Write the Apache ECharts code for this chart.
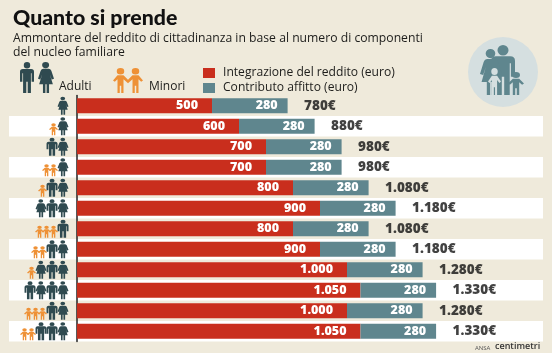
<!DOCTYPE html>
<html>
<head>
<meta charset="utf-8">
<style>
html, body { margin: 0; padding: 0; background: #efeadb; }
#chart { width: 552px; height: 353px; }
</style>
<script src="https://cdn.jsdelivr.net/npm/echarts@6/dist/echarts.min.js"></script>
</head>
<body>
<div id="chart"></div>
<script>
// one row per household, read left to right: b = minor, u = man, d = woman
var households = ['d', 'bd', 'ud', 'bbd', 'bud', 'dud', 'bbbu', 'bbud', 'bdud', 'udud', 'bbbud', 'bbuud'];
var integrazione = [500, 600, 700, 700, 800, 900, 800, 900, 1000, 1050, 1000, 1050];
var affitto = [280, 280, 280, 280, 280, 280, 280, 280, 280, 280, 280, 280];
var totali = [780, 880, 980, 980, 1080, 1180, 1080, 1180, 1280, 1330, 1280, 1330];

var nomeIntegrazione = 'Integrazione del reddito (euro)';
var nomeAffitto = 'Contributo affitto (euro)';

var DARK = '#2f4a50', ORANGE = '#ee9136', RED = '#c92e1d', TEAL = '#5f868e', TXT = '#1d1d1b', DISC = '#d5dfe0';
var FONT = '"Open Sans", sans-serif';

var manPath = 'M10 0a4.6 4.6 0 1 0 .01 0zM4 10h12q4 0 4 4v14h-3.4v-12h-1v28h-4.6v-16h-2v16h-4.6v-28h-1v12h-3.4v-14q0-4 4-4z';
var womanPath = 'M10 0a4.6 4.6 0 1 0 .01 0zM6 10h8q2.5 0 3.5 3l3.5 12l-3 1l-2.5-8l4 15h-5v13h-3.2v-13h-1.6v13h-3.2v-13h-5l4-15l-2.5 8l-3-1l3.5-12q1-3 3.5-3z';
var kidPath = 'M10 0a5 5 0 1 0 .01 0zM6 11h8l6 8l-2.4 2l-3.6-4v21h-3v-11h-2v11h-3v-21l-3.6 4l-2.4-2z';
var pairPath = 'M10 0a5 5 0 1 0 .01 0zM30 0a5 5 0 1 0 .01 0zM6 11h8l6 7l6-7h8l6 8l-2.4 2l-3.6-4v21h-3v-11h-2v11h-3v-21l-6 6l-6-6v21h-3v-11h-2v11h-3v-21l-3.6 4l-2.4-2z';

// axis runs past zero on the left so the row bands reach under the icons
var PX = 0.27; // pixels per euro
var xMin = -252, xMax = 1726;

// icons are stacked leftwards from the axis, depending on who is in the row
function iconPoints(kind) {
    var pts = [];
    households.forEach(function (h, row) {
        var x = 63;
        for (var i = h.length - 1; i >= 0; i--) {
            if (h[i] === kind) pts.push([(x - 77) / PX, row]);
            x -= h[i - 1] === 'b' ? (h[i] === 'b' ? 7 : 9.5) : 11;
        }
    });
    return pts;
}

function iconSeries(kind, path, size, color, offset) {
    return {
        type: 'scatter',
        silent: true,
        data: iconPoints(kind),
        symbol: 'path://' + path,
        symbolSize: size,
        symbolOffset: offset,
        itemStyle: { color: color, opacity: 1 },
        z: 5
    };
}

// header pictograms, placed in pixels like the rest of the header
var pictos = [
    [manPath, 20, 62, 14, 31, DARK],
    [womanPath, 38, 62, 16, 31, DARK],
    [pairPath, 113, 68, 30, 25, ORANGE],
    [manPath, 491, 45, 24, 50, TEAL],
    [womanPath, 480, 49, 22, 46, TEAL],
    [kidPath, 508, 72, 16, 23, TEAL],
    [kidPath, 488, 68, 13, 27, DISC]
];

function euroLabel(v) {
    return String(v).replace(/(\d)(\d{3})$/, '$1.$2');
}

var chart = echarts.init(document.getElementById('chart'));
chart.setOption({
    animation: false,
    backgroundColor: '#efeadb',
    textStyle: { fontFamily: FONT },
    title: {
        left: 8, top: 3, itemGap: 3,
        text: 'Quanto si prende',
        textStyle: { fontFamily: 'Lato, sans-serif', fontSize: 21.3, fontWeight: 900, color: '#111' },
        subtext: 'Ammontare del reddito di cittadinanza in base al numero di componenti\ndel nucleo familiare',
        subtextStyle: { fontFamily: FONT, fontSize: 12.2, fontWeight: 500, color: TXT, lineHeight: 14 }
    },
    legend: {
        left: 198, top: 62, orient: 'vertical', itemWidth: 12, itemHeight: 10, itemGap: 3,
        data: [
            { name: nomeIntegrazione, icon: 'rect' },
            { name: nomeAffitto, icon: 'rect' }
        ],
        textStyle: { fontFamily: FONT, fontSize: 12.1, color: TXT, padding: [0, 0, 0, 3] }
    },
    grid: { left: 9, top: 95.5, width: 534, height: 246 },
    xAxis: { type: 'value', min: xMin, max: xMax, show: false, splitLine: { show: false } },
    yAxis: {
        type: 'category',
        inverse: true,
        data: households,
        axisLine: { show: true, onZero: true, lineStyle: { color: '#222', width: 1.5 } },
        axisTick: { show: false },
        axisLabel: { show: false },
        splitArea: { show: true, areaStyle: { color: ['rgba(255,255,255,0)', '#ffffff'] } }
    },
    series: [
        {
            name: nomeIntegrazione, type: 'bar', stack: 'tot', barWidth: 15,
            data: integrazione,
            itemStyle: { color: RED },
            label: {
                show: true, position: 'insideRight', distance: 14, color: '#fff',
                fontFamily: FONT, fontSize: 12.5, fontWeight: 800,
                formatter: function (p) { return euroLabel(p.value); }
            }
        },
        {
            name: nomeAffitto, type: 'bar', stack: 'tot', barWidth: 15,
            data: affitto,
            itemStyle: { color: TEAL },
            label: {
                show: true, position: 'insideRight', distance: 10, color: '#fff',
                fontFamily: FONT, fontSize: 12.5, fontWeight: 800
            }
        },
        {
            // totals: only the label shows
            type: 'scatter', silent: true, symbolSize: 1, itemStyle: { color: 'rgba(0,0,0,0)' },
            data: totali.map(function (t, i) { return [t, i]; }),
            label: {
                show: true, position: 'right', distance: 16, color: '#111',
                fontFamily: FONT, fontSize: 13.5, fontWeight: 800,
                formatter: function (p) { return euroLabel(p.value[0]) + '€'; }
            }
        },
        iconSeries('u', manPath, [11, 18], DARK, [0, 0]),
        iconSeries('d', womanPath, [11, 18], DARK, [0, 0]),
        iconSeries('b', kidPath, [9, 12], ORANGE, [0, 3]),
        {
            type: 'custom', silent: true, coordinateSystem: 'none', data: pictos, z: 6,
            renderItem: function (params) {
                var p = pictos[params.dataIndex];
                return {
                    type: 'path',
                    shape: { pathData: p[0], layout: 'cover', x: p[1], y: p[2], width: p[3], height: p[4] },
                    style: { fill: p[5] }
                };
            }
        }
    ],
    graphic: [
        { type: 'text', left: 59, top: 81, style: { text: 'Adulti', font: '12px ' + FONT, fill: TXT } },
        { type: 'text', left: 149, top: 81, style: { text: 'Minori', font: '12px ' + FONT, fill: TXT } },
        { type: 'circle', shape: { cx: 503, cy: 72, r: 35 }, style: { fill: DISC } },
        { type: 'text', left: 475, top: 345, style: { text: 'ANSA', font: '6px ' + FONT, fill: '#555' } },
        { type: 'text', left: 495, top: 342, style: { text: 'centimetri', font: '600 9px ' + FONT, fill: '#333' } }
    ]
});
</script>
</body>
</html>
